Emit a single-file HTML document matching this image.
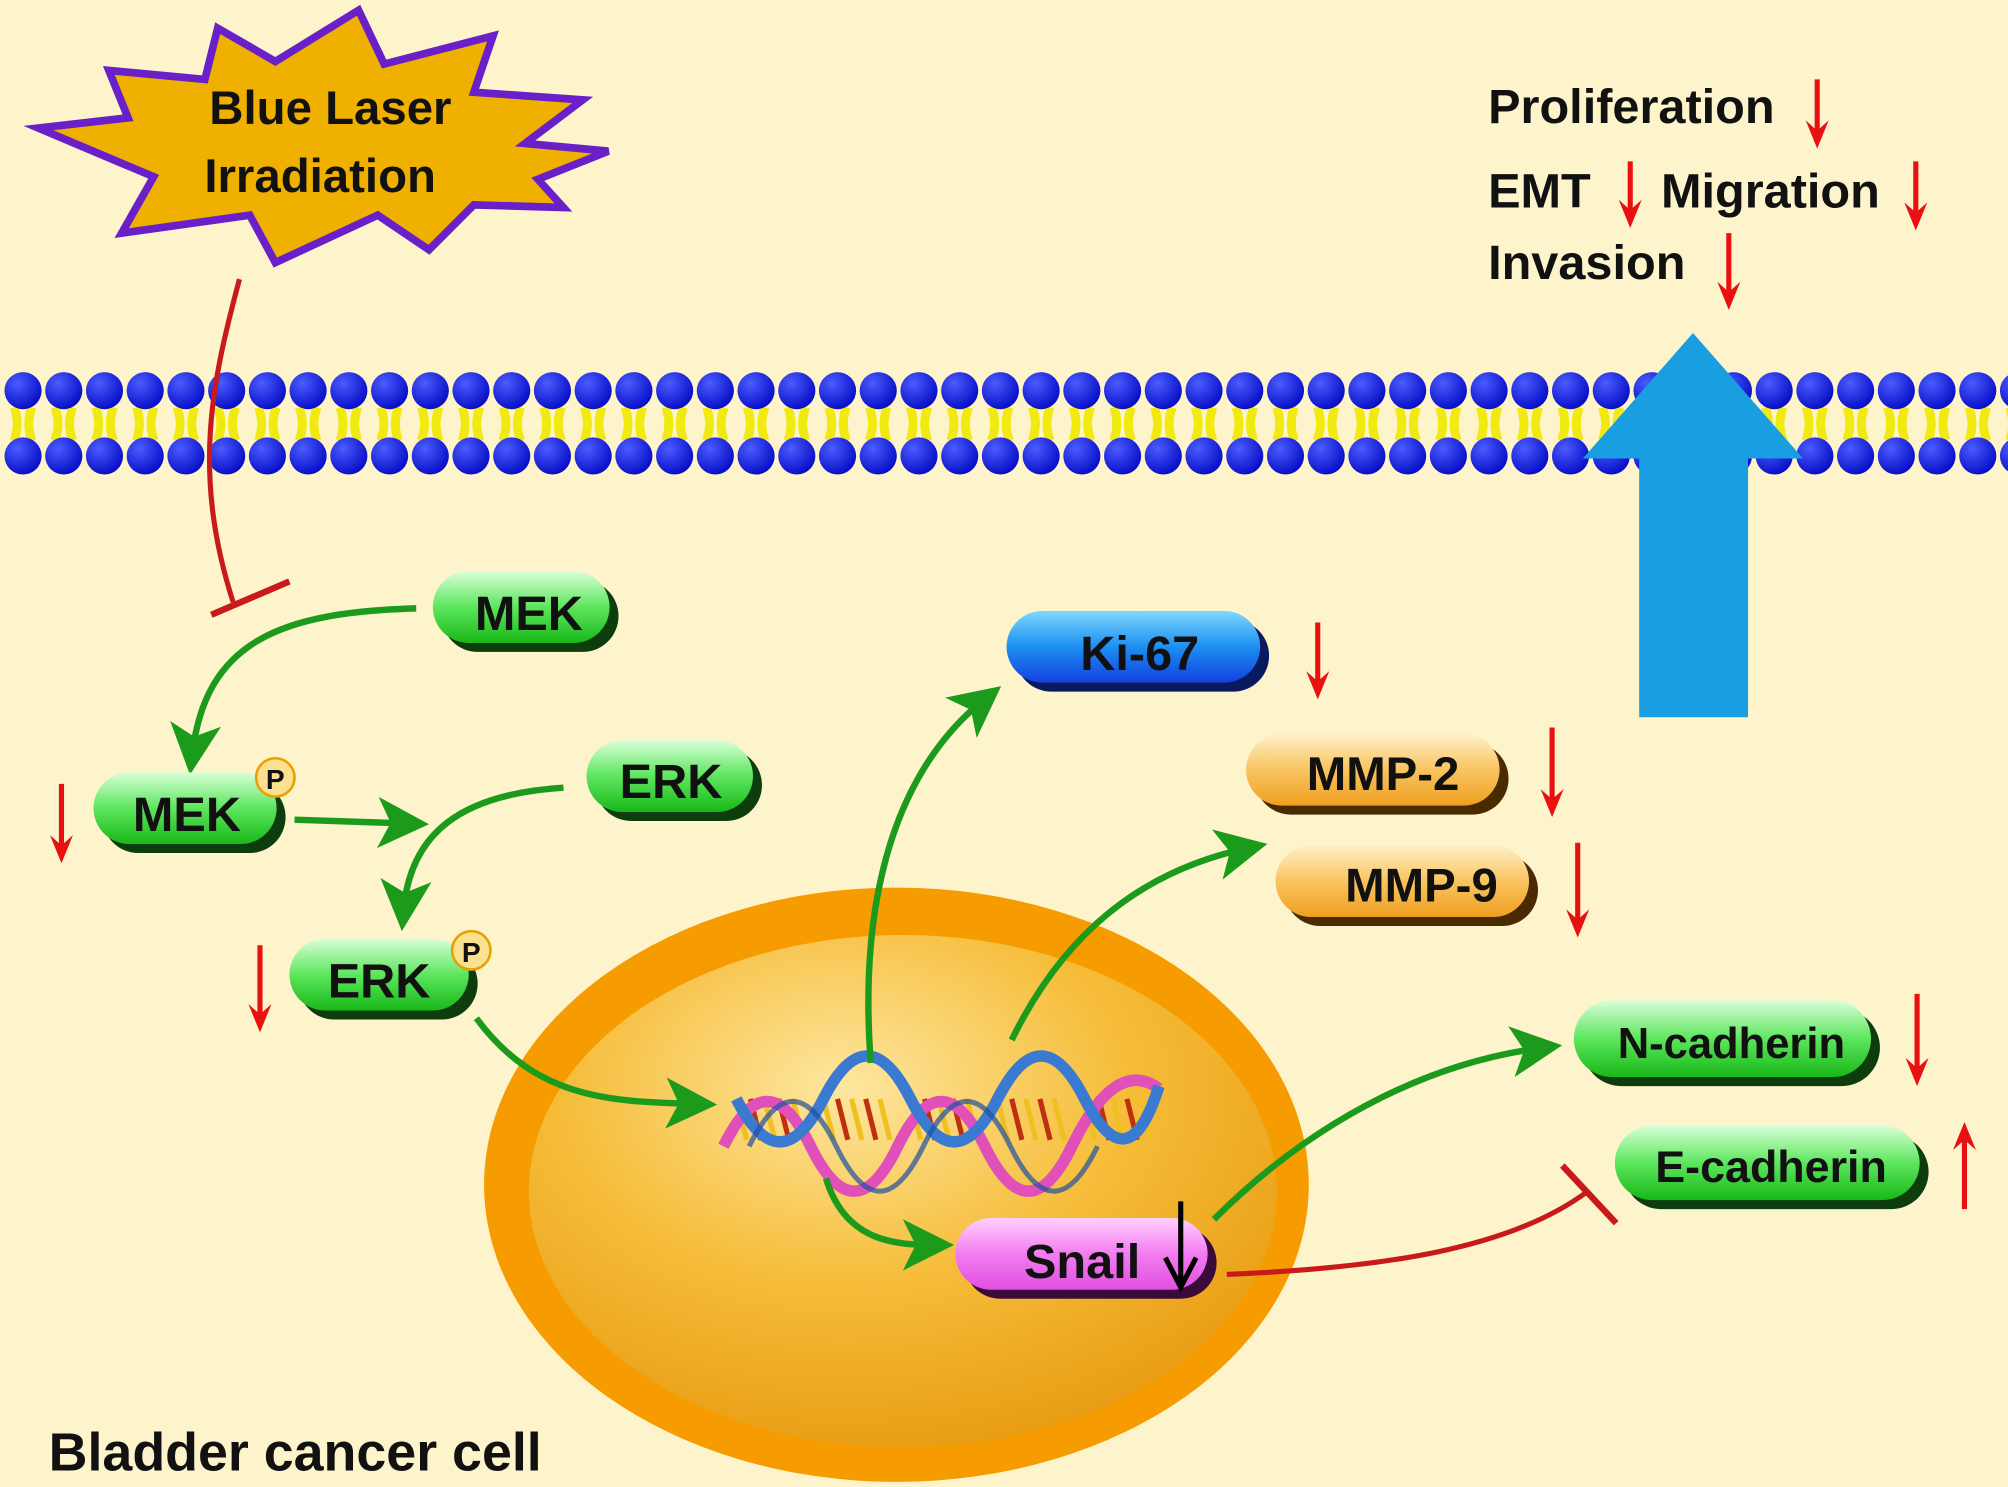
<!DOCTYPE html>
<html><head><meta charset="utf-8"><style>
html,body{margin:0;padding:0;background:#fdf4cc;}
svg{display:block}
text{font-family:"Liberation Sans",sans-serif;font-weight:bold;}
</style></head><body>
<svg width="2008" height="1487" viewBox="0 0 1568 1161" preserveAspectRatio="none" xmlns="http://www.w3.org/2000/svg">
<defs>
<radialGradient id="nuc" cx="0.42" cy="0.3" r="0.75"><stop offset="0" stop-color="#fde7a0"/><stop offset="0.5" stop-color="#f6bd3a"/><stop offset="1" stop-color="#e79a10"/></radialGradient>
<radialGradient id="head" cx="0.35" cy="0.3" r="0.7"><stop offset="0" stop-color="#4a5cff"/><stop offset="1" stop-color="#0a10c8"/></radialGradient>
<linearGradient id="gG" x1="0" y1="0" x2="0" y2="1"><stop offset="0" stop-color="#d8ffd8"/><stop offset="0.5" stop-color="#5de65d"/><stop offset="1" stop-color="#18b818"/></linearGradient>
<linearGradient id="gB" x1="0" y1="0" x2="0" y2="1"><stop offset="0" stop-color="#7fd8ff"/><stop offset="0.5" stop-color="#1c8ff0"/><stop offset="1" stop-color="#1440e0"/></linearGradient>
<linearGradient id="gO" x1="0" y1="0" x2="0" y2="1"><stop offset="0" stop-color="#fff0c8"/><stop offset="0.5" stop-color="#f9c460"/><stop offset="1" stop-color="#eea020"/></linearGradient>
<linearGradient id="gM" x1="0" y1="0" x2="0" y2="1"><stop offset="0" stop-color="#ffd0ff"/><stop offset="0.5" stop-color="#f27df0"/><stop offset="1" stop-color="#e050e0"/></linearGradient>
<marker id="ga" markerWidth="8" markerHeight="8" refX="5" refY="4" orient="auto" markerUnits="strokeWidth"><path d="M0,0 L8,4 L0,8 L2,4z" fill="#1c9a1c"/></marker>
</defs>
<rect width="1568" height="1161" fill="#fdf4cc"/>

<g id="mem">
<rect x="0" y="316" width="1568" height="30" fill="#fdf4cc"/>
</g>

<ellipse cx="700" cy="925" rx="322" ry="232" fill="#f79c00"/>
<ellipse cx="705" cy="930" rx="292" ry="200" fill="url(#nuc)"/>

<polygon points="170,22 215,48 280,8 300,50 385,28 370,72 455,78 410,112 475,118 420,140 440,162 370,160 335,195 295,168 215,205 195,168 95,182 120,138 30,100 100,92 85,55 160,62" fill="#f0b000" stroke="#6a20c8" stroke-width="6"/>
<text x="258" y="97" font-size="37" text-anchor="middle" fill="#111">Blue Laser</text>
<text x="250" y="150" font-size="37" text-anchor="middle" fill="#111">Irradiation</text>

<text x="1162" y="96" font-size="38" fill="#111">Proliferation</text>
<text x="1162" y="162" font-size="38" fill="#111">EMT</text>
<text x="1297" y="162" font-size="38" fill="#111">Migration</text>
<text x="1162" y="218" font-size="38" fill="#111">Invasion</text>

<g id="reds" stroke="#e81010" stroke-width="4" fill="#e81010"></g>

<polygon points="1280,560 1280,358 1236,358 1322,260 1408,358 1365,358 1365,560" fill="#1a9ee2"/>

<!-- DNA -->
<g id="dna"></g>

<path d="M187,218 C165,300 150,370 182,470" stroke="#c81a1a" stroke-width="4" fill="none"/>
<path d="M165,480 L226,454" stroke="#c81a1a" stroke-width="5"/>
<path d="M958,995 C1080,990 1180,975 1240,930" stroke="#c81a1a" stroke-width="4" fill="none"/>
<path d="M1220,910 L1262,955" stroke="#c81a1a" stroke-width="5"/>

<g stroke="#1c9a1c" stroke-width="5" fill="none" marker-end="url(#ga)">
<path d="M325,475 C220,478 160,500 150,590"/>
<path d="M230,640 L320,643"/>
<path d="M440,615 C360,620 320,650 315,712"/>
<path d="M372,795 C420,860 480,860 545,862"/>
<path d="M680,830 C670,700 700,600 770,545"/>
<path d="M790,812 C830,730 890,680 975,662"/>
<path d="M645,920 C660,970 700,972 730,972"/>
<path d="M948,952 C1020,880 1110,830 1205,818"/>
</g>

<g>
<rect x="345" y="453" width="138" height="56" rx="28" fill="#0d3d0d"/>
<rect x="338" y="446" width="138" height="56" rx="28" fill="url(#gG)"/>
<text x="413" y="492" font-size="38" text-anchor="middle" fill="#111">MEK</text>

<rect x="80" y="610" width="143" height="56" rx="28" fill="#0d3d0d"/>
<rect x="73" y="603" width="143" height="56" rx="28" fill="url(#gG)"/>
<text x="146" y="649" font-size="38" text-anchor="middle" fill="#111">MEK</text>
<circle cx="215" cy="607" r="15" fill="#fbe090" stroke="#e8a000" stroke-width="2"/><text x="215" y="616" font-size="22" text-anchor="middle" fill="#111">P</text>

<rect x="465" y="585" width="130" height="56" rx="28" fill="#0d3d0d"/>
<rect x="458" y="578" width="130" height="56" rx="28" fill="url(#gG)"/>
<text x="524" y="623" font-size="38" text-anchor="middle" fill="#111">ERK</text>

<rect x="233" y="740" width="140" height="56" rx="28" fill="#0d3d0d"/>
<rect x="226" y="733" width="140" height="56" rx="28" fill="url(#gG)"/>
<text x="296" y="779" font-size="38" text-anchor="middle" fill="#111">ERK</text>
<circle cx="368" cy="742" r="15" fill="#fbe090" stroke="#e8a000" stroke-width="2"/><text x="368" y="751" font-size="22" text-anchor="middle" fill="#111">P</text>

<rect x="793" y="484" width="198" height="56" rx="28" fill="#0a1a60"/>
<rect x="786" y="477" width="198" height="56" rx="28" fill="url(#gB)"/>
<text x="890" y="523" font-size="38" text-anchor="middle" fill="#111">Ki-67</text>

<rect x="980" y="580" width="198" height="56" rx="28" fill="#4a2a00"/>
<rect x="973" y="573" width="198" height="56" rx="28" fill="url(#gO)"/>
<text x="1080" y="617" font-size="37" text-anchor="middle" fill="#111">MMP-2</text>

<rect x="1003" y="667" width="198" height="56" rx="28" fill="#4a2a00"/>
<rect x="996" y="660" width="198" height="56" rx="28" fill="url(#gO)"/>
<text x="1110" y="704" font-size="37" text-anchor="middle" fill="#111">MMP-9</text>

<rect x="1236" y="788" width="232" height="60" rx="30" fill="#0d3d0d"/>
<rect x="1229" y="781" width="232" height="60" rx="30" fill="url(#gG)"/>
<text x="1352" y="826" font-size="34" text-anchor="middle" fill="#111">N-cadherin</text>

<rect x="1268" y="886" width="238" height="58" rx="29" fill="#0d3d0d"/>
<rect x="1261" y="879" width="238" height="58" rx="29" fill="url(#gG)"/>
<text x="1383" y="923" font-size="35" text-anchor="middle" fill="#111">E-cadherin</text>

<rect x="753" y="958" width="197" height="56" rx="28" fill="#3a0a3a"/>
<rect x="746" y="951" width="197" height="56" rx="28" fill="url(#gM)"/>
<text x="845" y="998" font-size="38" text-anchor="middle" fill="#111">Snail</text>
<path d="M922,938 V1005 M910,982 L922,1005 L934,982" stroke="#000" stroke-width="4" fill="none"/>
</g>

<text x="38" y="1148" font-size="42" fill="#111">Bladder cancer cell</text>
</svg>
<script>
(function(){var g=document.getElementById('mem'),s='';
for(var x=18;x<1580;x+=31.8){
s+='<path d="M'+(x-7)+',318 q5,13 0,26 M'+(x+7)+',318 q-5,13 0,26" stroke="#f0ea10" stroke-width="7" fill="none"/>';
s+='<circle cx="'+x+'" cy="305" r="14.5" fill="url(#head)"/><circle cx="'+x+'" cy="356" r="14.5" fill="url(#head)"/>';}
g.insertAdjacentHTML('beforeend',s);
var r='',A=[[1419,62,116],[1273,126,178],[1496,126,180],[1350,182,242],[1029,486,546],[1212,568,638],[1232,658,732],[1497,776,848],[48,612,674],[203,738,806]];
A.forEach(function(a){var x=a[0],y1=a[1],y2=a[2];r+='<line x1="'+x+'" y1="'+y1+'" x2="'+x+'" y2="'+(y2-10)+'"/><polygon stroke="none" points="'+(x-9)+','+(y2-22)+' '+x+','+y2+' '+(x+9)+','+(y2-22)+' '+x+','+(y2-14)+'"/>';});
var x=1534,y1=944,y2=876;r+='<line x1="'+x+'" y1="'+y1+'" x2="'+x+'" y2="'+(y2+10)+'"/><polygon stroke="none" points="'+(x-9)+','+(y2+22)+' '+x+','+y2+' '+(x+9)+','+(y2+22)+' '+x+','+(y2+14)+'"/>';
document.getElementById('reds').insertAdjacentHTML('beforeend',r);
var d='',x0=565,x1=905;
for(var i=0;i<5;i++){var bx=x0+i*68;
for(var k=0;k<5;k++){var xx=bx+10+k*11;d+='<line x1="'+xx+'" y1="858" x2="'+(xx+8)+'" y2="890" stroke="'+(k%2?'#c03010':'#f0c020')+'" stroke-width="4"/>';}}
var p1='M565,895',p2='M570,858';
for(var i=0;i<5;i++){var bx=x0+i*68;p1+=' C'+(bx+20)+',895 '+(bx+40)+',855 '+(bx+68)+',855 C'+(bx+68)+',855 '+(bx+68)+',895 '+(bx+68)+',895';}
d+='<path d="M565,895 Q599,825 633,895 T701,895 T769,895 T837,895 T905,850" fill="none" stroke="#e050b8" stroke-width="9"/>';
d+='<path d="M575,858 Q609,925 643,858 T711,858 T779,858 T847,858 T905,848" fill="none" stroke="#3a7ad0" stroke-width="9"/>';
d+='<path d="M585,895 Q619,825 653,895 T721,895 T789,895 T857,895" fill="none" stroke="#2050a0" stroke-width="4" opacity="0.7"/>';
document.getElementById('dna').innerHTML=d;})();
</script>
</body></html>
